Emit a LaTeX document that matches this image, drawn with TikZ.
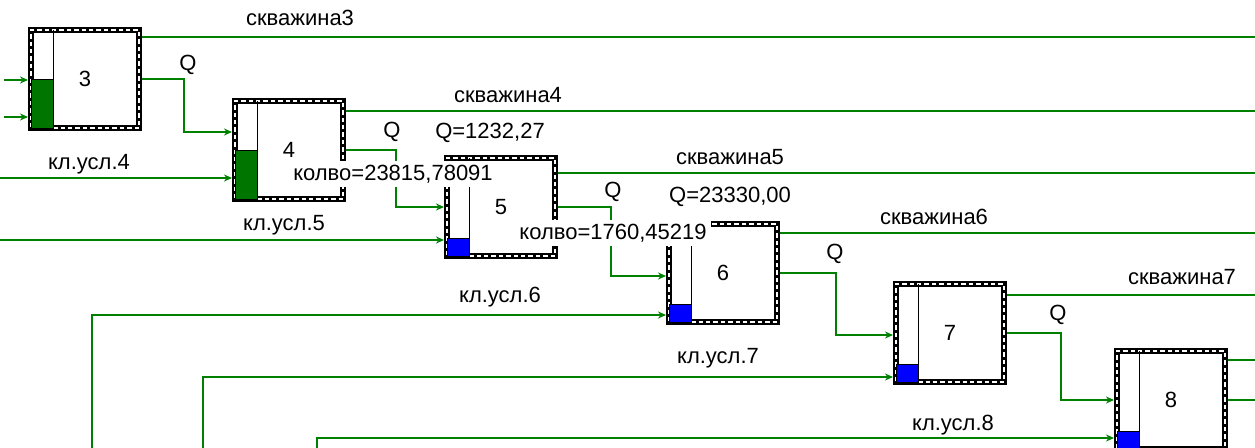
\documentclass[tikz,border=0pt]{standalone}
\usepackage{fontspec}
\setmainfont{Liberation Sans}
\usepackage{tikz}
\usetikzlibrary{arrows.meta,positioning,calc,backgrounds}
\definecolor{wiregreen}{RGB}{0,128,0}
\definecolor{lvlgreen}{RGB}{0,118,0}
\definecolor{lvlblue}{RGB}{0,0,255}

\begin{document}
\begin{tikzpicture}[x=0.5pt,y=-0.5pt,>=Stealth,font=\fontsize{11}{13}\selectfont,
  tank/.style={draw=black,line width=3pt,minimum width=54pt,minimum height=49pt,inner sep=0pt,
    postaction={draw=white,line width=0.8pt,dash pattern=on 2.2pt off 1.5pt}},
  wire/.style={draw=wiregreen,line width=0.9pt},
  flow/.style={wire,-{Stealth[length=4pt,width=3.5pt]}},
  lvl/.style={draw=black,line width=0.5pt},
  val/.style={fill=white,inner sep=2pt}]
\useasboundingbox (0,0) rectangle (1255,447);
% tanks
\node[tank] (b3) at (85,79) {3};
\node[tank] (b4) at (289,150) {4};
\node[tank] (b5) at (501,207) {5};
\node[tank] (b6) at (723,273) {6};
\node[tank] (b7) at (950,333) {7};
\node[tank] (b8) at (1171,400) {8};
% level columns
\draw[lvl] ([xshift=12.5pt,yshift=-1.5pt]b3.north west) -- ([xshift=12.5pt,yshift=1.5pt]b3.south west);
\draw[lvl] ([xshift=12.5pt,yshift=-1.5pt]b4.north west) -- ([xshift=12.5pt,yshift=1.5pt]b4.south west);
\draw[lvl] ([xshift=12.5pt,yshift=-1.5pt]b5.north west) -- ([xshift=12.5pt,yshift=1.5pt]b5.south west);
\draw[lvl] ([xshift=12.5pt,yshift=-1.5pt]b6.north west) -- ([xshift=12.5pt,yshift=1.5pt]b6.south west);
\draw[lvl] ([xshift=12.5pt,yshift=-1.5pt]b7.north west) -- ([xshift=12.5pt,yshift=1.5pt]b7.south west);
\draw[lvl] ([xshift=12.5pt,yshift=-1.5pt]b8.north west) -- ([xshift=12.5pt,yshift=1.5pt]b8.south west);
\draw[lvl,fill=lvlgreen] ([shift={(1.5pt,1.5pt)}]b3.south west) rectangle ([xshift=12.5pt]b3.west);
\draw[lvl,fill=lvlgreen] ([shift={(1.5pt,1.5pt)}]b4.south west) rectangle ([xshift=12.5pt]b4.west);
\draw[lvl,fill=lvlblue] ([shift={(1.5pt,1.5pt)}]b5.south west) rectangle ([shift={(12.5pt,10.5pt)}]b5.south west);
\draw[lvl,fill=lvlblue] ([shift={(1.5pt,1.5pt)}]b6.south west) rectangle ([shift={(12.5pt,10.5pt)}]b6.south west);
\draw[lvl,fill=lvlblue] ([shift={(1.5pt,1.5pt)}]b7.south west) rectangle ([shift={(12.5pt,10.5pt)}]b7.south west);
\draw[lvl,fill=lvlblue] ([shift={(1.5pt,1.5pt)}]b8.south west) rectangle ([shift={(12.5pt,10.5pt)}]b8.south west);
% connectors
\coordinate (i3a) at (4,80);
\coordinate (i3b) at (4,117);
\coordinate (k4) at (0,178);
\coordinate (k5) at (0,240);
\coordinate (k6) at (92,452);
\coordinate (k7) at (203,452);
\coordinate (k8) at (317,452);
\begin{pgfonlayer}{background}
\draw[flow] (i3a) -- (i3a -| b3.west);
\draw[flow] (i3b) -- (i3b -| b3.west);
\draw[flow] (k4) -- (k4 -| b4.west);
\draw[flow] (k5) -- (k5 -| b5.west);
\draw[flow] (k6) |- ([yshift=-21pt]b6.west);
\draw[flow] (k7) |- ([yshift=-22pt]b7.west);
\draw[flow] (k8) |- ([yshift=-19pt]b8.west);
\draw[flow] (b3.east) -- ++(42,0) |- ([yshift=9pt]b4.west);
\draw[flow] (b4.east) -- ++(50,0) |- (b5.west);
\draw[flow] (b5.east) -- ++(53,0) |- ([yshift=-1.5pt]b6.west);
\draw[flow] (b6.east) -- ++(56,0) |- ([yshift=-1pt]b7.west);
\draw[flow] (b7.east) -- ++(54,0) |- (b8.west);
\draw[wire] (b8.east) -- ++(27,0);
\draw[wire] ([yshift=-5pt]b3.north east) -- ++(1113,0);
\draw[wire] ([yshift=-6.5pt]b4.north east) -- ++(909,0);
\draw[wire] ([yshift=-9pt]b5.north east) -- ++(697,0);
\draw[wire] ([yshift=-6pt]b6.north east) -- ++(475,0);
\draw[wire] ([yshift=-7pt]b7.north east) -- ++(248,0);
\draw[wire] ([yshift=-6pt]b8.north east) -- ++(27,0);
\end{pgfonlayer}
% labels
\node (s3) at (300,18) {скважина3};
\node (s4) at (508,95) {скважина4};
\node (s5) at (730,157) {скважина5};
\node (s6) at (934,217) {скважина6};
\node (s7) at (1182,277) {скважина7};
\node (q3) at (188,65) {Q};
\node (q4) at (392,132) {Q};
\node (q5) at (613,192) {Q};
\node (q6) at (835,254) {Q};
\node (q7) at (1058,315) {Q};
\node (f5) at (490,133) {Q=1232,27};
\node (f6) at (730,197) {Q=23330,00};
\node[val] (v4) at (393,174) {колво=23815,78091};
\node[val] (v5) at (613,233) {колво=1760,45219};
\node (c4) at (89,164) {кл.усл.4};
\node (c5) at (284,225) {кл.усл.5};
\node (c6) at (500,297) {кл.усл.6};
\node (c7) at (718,358) {кл.усл.7};
\node (c8) at (953,425) {кл.усл.8};
\end{tikzpicture}
\end{document}
